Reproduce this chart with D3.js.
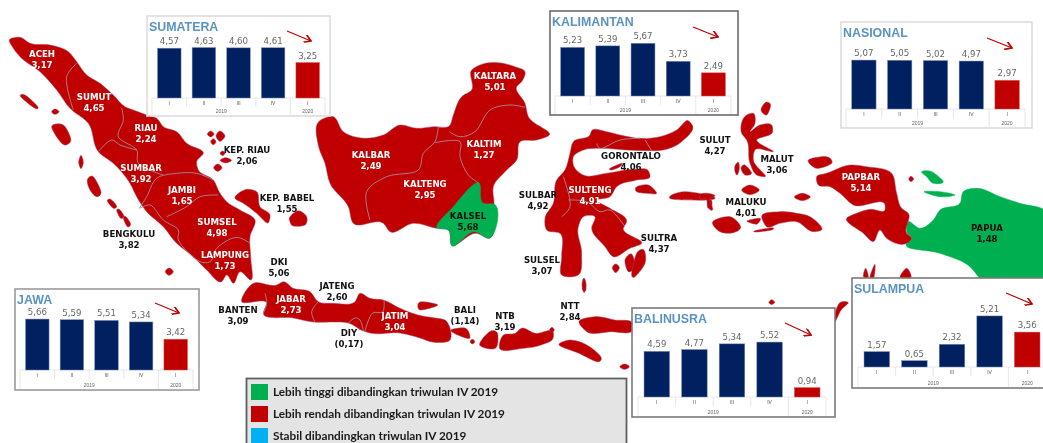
<!DOCTYPE html>
<html>
<head>
<meta charset="utf-8">
<script src="https://cdn.jsdelivr.net/npm/d3@7"></script>
<style>
  html, body { margin: 0; padding: 0; background: #fff; overflow: hidden; }
  svg { display: block; filter: blur(0.6px); }
</style>
</head>
<body>
<svg id="chart"></svg>
<script>
const W = 1043, H = 443;
const NAVY = "#002060", RED = "#c00000", GREEN = "#00b050", BLUE = "#00b0f0";

// ---- inset bar charts
const quarters = ["I", "II", "III", "IV", "I"];
const years = ["2019", "2020"];
const sumateraValues = [4.57, 4.63, 4.60, 4.61, 3.25];
const kalimantanValues = [5.23, 5.39, 5.67, 3.73, 2.49];
const nasionalValues = [5.07, 5.05, 5.02, 4.97, 2.97];
const jawaValues = [5.66, 5.59, 5.51, 5.34, 3.42];
const balinusraValues = [4.59, 4.77, 5.34, 5.52, 0.94];
const sulampuaValues = [1.57, 0.65, 2.32, 5.21, 3.56];

// ---- province labels
const provinces = ["ACEH", "SUMUT", "RIAU", "SUMBAR", "JAMBI", "SUMSEL", "LAMPUNG", "KEP. RIAU", "KEP. BABEL", "BENGKULU",
  "DKI", "JATENG", "JABAR", "BANTEN", "DIY", "JATIM", "BALI", "NTB", "NTT",
  "KALTARA", "KALTIM", "KALBAR", "KALTENG", "KALSEL",
  "GORONTALO", "SULUT", "SULBAR", "SULTENG", "SULTRA", "SULSEL", "MALUT", "MALUKU", "PAPBAR", "PAPUA"];
const growth = [3.17, 4.65, 2.24, 3.92, 1.65, 4.98, 1.73, 2.06, 1.55, 3.82,
  5.06, 2.60, 2.73, 3.09, -0.17, 3.04, -1.14, 3.19, 2.84,
  5.01, 1.27, 2.49, 2.95, 5.68,
  4.06, 4.27, 4.92, 4.91, 4.37, 3.07, 3.06, 4.01, 5.14, 1.48];
const labelX = [42, 94, 146, 141, 182, 217, 225, 247, 287, 129,
  279, 337, 291, 238, 349, 395, 465, 505, 570,
  495, 484, 371, 425, 468,
  631, 715, 538, 590, 659, 542, 777, 746, 861, 987];
const labelY = [54, 97, 128, 168, 190, 222, 255, 150, 198, 234,
  262, 286, 299, 310, 333, 316, 310, 316, 306,
  76, 144, 155, 184, 216,
  156, 140, 195, 190, 238, 260, 159, 202, 177, 228];
const whiteLabels = ["ACEH", "SUMUT", "RIAU", "SUMBAR", "JAMBI", "SUMSEL", "LAMPUNG", "JABAR", "JATIM",
  "KALTARA", "KALTIM", "KALBAR", "KALTENG", "SULTENG", "PAPBAR"];

// ---- legend
const legendText = ["Lebih tinggi dibandingkan triwulan IV 2019", "Lebih rendah dibandingkan triwulan IV 2019", "Stabil dibandingkan triwulan IV 2019"];
const legendColor = [GREEN, RED, BLUE];

// ---- map outlines. every sheet has its own units
const sumatraLand = [[28,120],[60,112],[90,130],[150,135],[205,155],[230,185],[260,225],[300,250],[340,285],[375,320],[400,330],[440,345],[470,355],[490,380],[530,395],[560,430],[610,460],[590,485],[595,510],[640,540],[660,580],[680,605],[720,630],[765,660],[750,710],[752,770],[752,840],[720,815],[700,850],[680,825],[665,845],[620,810],[580,770],[530,730],[490,680],[440,635],[410,590],[390,550],[340,490],[295,455],[265,370],[210,325],[170,270],[120,215],[60,170],[40,145]];
const sumatraIslands = [
  [[62,290],[75,285],[112,318],[105,325]],
  [[155,335],[165,327],[177,335],[165,343]],
  [[155,380],[190,375],[212,415],[205,432],[185,430]],
  [[236,487],[243,466],[250,487],[243,506]],
  [[262,540],[280,530],[303,575],[290,590],[270,570]],
  [[322,603],[332,598],[350,618],[340,625]],
  [[350,632],[358,628],[372,648],[362,655]],
  [[370,655],[378,650],[392,672],[382,680]],
  [[496,815],[507,804],[520,815],[507,826]],
  [[622,402],[632,393],[642,402],[632,411]],
  [[648,408],[660,393],[675,408],[660,424]],
  [[632,425],[640,416],[648,425],[640,434]],
  [[660,460],[668,453],[675,460],[668,467]],
  [[660,481],[677,473],[695,481],[677,489]],
  [[641,503],[653,492],[666,503],[653,514]],
  [[705,595],[740,568],[770,575],[780,620],[810,645],[805,668],[770,640],[730,610]],
  [[870,650],[895,632],[920,650],[915,675],[880,678],[870,665]]
];
const sumatraBorders = [
  [[230,190],[200,230],[220,330]],
  [[365,325],[370,360],[355,410],[410,450],[415,490],[490,525]],
  [[295,455],[335,420],[360,435],[410,450]],
  [[418,625],[440,590],[470,535],[530,520],[590,520],[640,540]],
  [[500,650],[560,620],[600,590],[655,585]],
  [[420,625],[450,615],[490,660],[535,690],[535,720],[600,785],[630,785],[650,745],[710,712],[750,730]]
];

const borneoLand = [[-4,365],[40,350],[70,395],[110,412],[190,405],[240,375],[290,385],[340,380],[388,378],[400,345],[425,290],[455,270],[455,210],[480,195],[585,200],[615,215],[605,245],[590,260],[615,310],[625,350],[688,405],[650,420],[600,425],[590,480],[560,510],[520,560],[522,610],[505,715],[470,700],[395,735],[385,690],[350,685],[280,670],[210,695],[190,670],[100,670],[85,620],[30,550],[15,490],[-4,440]];
const kalselLand = [[478,550],[490,610],[522,612],[505,715],[465,695],[395,737],[385,690],[353,685],[400,620]];
const borneoBorders = [
  [[388,395],[420,410],[465,395],[510,330],[570,315],[615,322]],
  [[355,380],[345,425],[310,460],[295,510],[200,530],[140,575],[150,660]],
  [[345,428],[420,425],[420,470],[445,525],[478,550]]
];
const sulawesiLand = [[760,425],[810,405],[815,392],[860,395],[900,405],[960,415],[1020,410],[1070,390],[1105,362],[1118,378],[1085,425],[1030,450],[990,452],[920,450],[840,445],[790,450],[760,470],[762,500],[790,525],[860,520],[940,508],[985,512],[990,530],[950,540],[890,560],[870,590],[830,600],[870,625],[920,665],[910,685],[965,730],[930,745],[880,770],[855,740],[815,685],[825,650],[790,650],[775,680],[785,760],[775,825],[725,825],[725,770],[720,700],[680,690],[675,655],[700,610],[710,540],[735,510],[750,460]];
const sulawesiIslands = [
  [[870,505],[905,490],[900,500],[875,510]],
  [[950,560],[985,555],[1010,580],[980,580],[950,575]],
  [[1055,585],[1100,575],[1180,590],[1165,600],[1060,598]],
  [[1162,600],[1175,602],[1175,630],[1168,625]],
  [[915,780],[935,762],[945,800],[925,815]],
  [[950,760],[972,750],[975,790],[945,830],[935,820]],
  [[877,803],[887,792],[898,803],[887,818]],
  [[788,840],[795,838],[798,870],[788,870]]
];
const sulawesiBorders = [
  [[830,430],[840,445],[900,420],[960,415]],
  [[975,420],[995,452]],
  [[730,530],[750,620],[725,650]],
  [[745,600],[800,605],[840,635],[870,630],[915,680]]
];

const easternIslands = [
  [[125,400],[140,345],[160,340],[165,370],[150,395],[180,375],[215,375],[218,395],[170,420],[220,455],[165,450],[160,480],[195,530],[170,525],[150,490],[140,420]],
  [[183,330],[197,307],[212,315],[200,345]],
  [[105,497],[115,487],[118,505],[112,525],[105,515]],
  [[123,505],[135,495],[155,520],[135,525]],
  [[125,570],[150,555],[178,570],[150,584]],
  [[283,591],[307,580],[331,591],[307,602]],
  [[38,665],[90,650],[122,680],[100,698],[60,695]],
  [[185,650],[240,635],[290,640],[330,650],[365,690],[340,695],[290,665],[240,670],[200,680],[190,665]],
  [[142,662],[180,655],[172,672],[150,668]],
  [[165,692],[215,683],[215,690],[170,696]],
  [[325,480],[380,470],[395,490],[350,505]],
  [[0,585],[45,588],[30,595],[37,630],[25,625],[18,597],[0,598]],
  [[490,830],[497,805],[505,832]],
  [[510,830],[525,793],[522,832]],
  [[600,832],[620,805],[633,832]],
  [[626,537],[633,529],[641,537],[633,545]]
];
const papbarLand = [[350,530],[380,520],[450,495],[500,500],[575,520],[590,580],[605,625],[625,640],[620,700],[635,715],[620,730],[560,715],[540,690],[520,725],[490,700],[440,655],[470,640],[510,628],[555,630],[555,615],[460,615],[420,580],[390,560],[355,555]];
const papuaLand = [[625,665],[660,685],[700,660],[720,630],[780,610],[790,575],[830,565],[900,590],[960,610],[1035,630],[1035,840],[845,840],[810,800],[720,760],[620,730],[635,715],[622,700]];
const papuaIslands = [
  [[665,515],[695,515],[730,545],[700,550],[680,530]],
  [[672,575],[720,575],[765,585],[720,590]]
];

const javaLand = [[725,95],[760,40],[830,45],[850,35],[880,55],[930,65],[955,95],[1000,100],[1065,95],[1080,70],[1110,85],[1150,90],[1200,115],[1254,135],[1305,144],[1335,150],[1350,210],[1296,216],[1260,204],[1200,189],[1110,189],[1090,183],[1045,159],[1000,156],[940,156],[880,144],[790,129],[800,99]];
const javaBorders = [
  [[795,70],[800,100],[790,130]],
  [[955,95],[935,125],[945,156]],
  [[1152,90],[1148,126],[1118,129],[1095,183]],
  [[1045,159],[1065,144],[1080,150],[1090,183]]
];
const lesserSunda = [
  [[0,96],[45,105],[0,120]],
  [[78,180],[115,175],[125,205],[95,195]],
  [[126,215],[132,208],[138,215],[132,222]],
  [[150,225],[175,185],[195,190],[190,235]],
  [[200,235],[210,195],[240,190],[255,175],[290,190],[335,185],[335,205],[305,225],[260,235]],
  [[326,180],[332,172],[338,180],[332,187]],
  [[400,155],[440,140],[490,150],[535,160],[535,180],[480,185],[420,185]],
  [[350,225],[380,210],[420,225],[455,260],[445,275],[400,250]],
  [[503,290],[515,282],[527,290],[515,298]],
  [[408,45],[413,28],[418,45],[413,68]],
  [[878,97],[885,89],[893,97],[885,104]],
  [[1040,150],[1055,100],[1078,98],[1060,120],[1045,155]]
];

// each sheet says how its units sit on the picture
const sheetA = { x: d3.scaleLinear().domain([0, 1020]).range([0, 340]), y: d3.scaleLinear().domain([0, 870]).range([0, 290]) };
const sheetB = { x: d3.scaleLinear().domain([0, 1200]).range([320, 720]), y: d3.scaleLinear().domain([0, 870]).range([0, 290]) };
const sheetC = { x: d3.scaleLinear().domain([0, 1029]).range([700, 1043]), y: d3.scaleLinear().domain([0, 870]).range([0, 290]) };
const sheetD = { x: d3.scaleLinear().domain([0, 1260]).range([0, 420]), y: d3.scaleLinear().domain([0, 519]).range([270, 443]) };
const sheetE = { x: d3.scaleLinear().domain([0, 1568]).range([420, 1043]), y: d3.scaleLinear().domain([0, 519]).range([270, 443]) };

const svg = d3.select("#chart").attr("width", W).attr("height", H);

function drawLand(sheet, shapes, color) {
  // long coasts stay tight, little islands come out round
  const path = shape => d3.line()
    .x(d => sheet.x(d[0]))
    .y(d => sheet.y(d[1]))
    .curve(d3.curveCatmullRomClosed.alpha(shape.length > 6 ? 1 : 0))(shape);
  svg.append("g")
    .selectAll("path")
    .data(shapes)
    .enter()
    .append("path")
    .attr("d", path)
    .attr("fill", color)
    .attr("stroke", color === RED ? "#a9436a" : color)
    .attr("stroke-width", 0.5);
}

function drawBorders(sheet, lines) {
  const path = d3.line().x(d => sheet.x(d[0])).y(d => sheet.y(d[1])).curve(d3.curveCatmullRom);
  svg.append("g")
    .selectAll("path")
    .data(lines)
    .enter()
    .append("path")
    .attr("d", path)
    .attr("fill", "none")
    .attr("stroke", "#a58a9c")
    .attr("stroke-width", 0.9);
}

drawLand(sheetA, [sumatraLand].concat(sumatraIslands), RED);
drawBorders(sheetA, sumatraBorders);
drawLand(sheetB, [borneoLand, sulawesiLand].concat(sulawesiIslands), RED);
drawBorders(sheetB, borneoBorders.concat(sulawesiBorders));
drawLand(sheetB, [kalselLand], GREEN);
drawLand(sheetC, easternIslands, RED);
drawLand(sheetC, [papuaLand].concat(papuaIslands), GREEN);
drawLand(sheetC, [papbarLand], RED);
drawLand(sheetD, [javaLand], RED);
drawBorders(sheetD, javaBorders);
drawLand(sheetE, lesserSunda, RED);

function growthText(v) {
  const s = d3.format(".2f")(Math.abs(v)).replace(".", ",");
  return v < 0 ? "(" + s + ")" : s;
}

const labels = svg.append("g")
  .attr("font-family", "'DejaVu Sans', sans-serif")
  .attr("font-weight", "bold")
  .attr("font-size", 8.6)
  .attr("text-anchor", "middle");

provinces.forEach((name, i) => {
  const color = whiteLabels.includes(name) ? "#fff" : "#111";
  labels.append("text").attr("x", labelX[i]).attr("y", labelY[i] + 3).attr("fill", color).text(name);
  labels.append("text").attr("x", labelX[i]).attr("y", labelY[i] + 13.5).attr("fill", color).text(growthText(growth[i]));
});

// ---- panels
const panels = [
  { title: "SUMATERA", values: sumateraValues, box: [147, 16, 183, 100], plot: [152, 325], base: 98, unit: 10.9, arrow: [[287, 31], [311, 41]], edge: "#dcdcdc" },
  { title: "KALIMANTAN", values: kalimantanValues, box: [550, 11, 188, 104], plot: [555, 731], base: 96, unit: 9.3, arrow: [[693, 27], [718, 37]], edge: "#6b6b6b" },
  { title: "NASIONAL", values: nasionalValues, box: [841, 22, 191, 106], plot: [846, 1025], base: 109, unit: 9.65, arrow: [[987, 38], [1012, 48]], edge: "#dcdcdc" },
  { title: "JAWA", values: jawaValues, box: [15, 289, 184, 101], plot: [20, 193], base: 370, unit: 9, arrow: [[155, 303], [179, 313]], edge: "#9a9a9a" },
  { title: "BALINUSRA", values: balinusraValues, box: [632, 308, 203, 109], plot: [638, 826], base: 397, unit: 9.95, arrow: [[785, 323], [811, 335]], edge: "#7a7a7a" },
  { title: "SULAMPUA", values: sulampuaValues, box: [852, 278, 195, 110], plot: [858, 1046], base: 367, unit: 9.8, arrow: [[1006, 293], [1032, 304]], edge: "#7a7a7a" }
];

svg.append("defs").append("marker")
  .attr("id", "arrowHead")
  .attr("viewBox", "0 0 10 10")
  .attr("refX", 9).attr("refY", 5)
  .attr("markerWidth", 7).attr("markerHeight", 7)
  .attr("orient", "auto")
  .append("path")
  .attr("d", "M1,0 L9,5 L1,10")
  .attr("fill", "none")
  .attr("stroke", RED)
  .attr("stroke-width", 2);

panels.forEach(drawPanel);

function drawPanel(p) {
  const [bx, by, bw, bh] = p.box;
  const g = svg.append("g");
  const bottom = by + bh;

  g.append("rect")
    .attr("x", bx).attr("y", by).attr("width", bw).attr("height", bh)
    .attr("fill", "#fff")
    .attr("stroke", p.edge)
    .attr("stroke-width", 1.6);

  g.append("text")
    .attr("x", bx + 2).attr("y", by + 15)
    .attr("font-family", "'Liberation Sans', sans-serif")
    .attr("font-weight", "bold")
    .attr("font-size", 12.4)
    .attr("fill", "#5a93c2")
    .text(p.title);

  const x = d3.scaleBand().domain(d3.range(quarters.length)).range(p.plot).paddingInner(0.32).paddingOuter(0.16);
  const y = d3.scaleLinear().domain([0, 1]).range([p.base, p.base - p.unit]);
  const step = x.step();

  // small table under the bars
  const table = g.append("g").attr("stroke", "#dddddd").attr("stroke-width", 0.7);
  const cuts = d3.range(quarters.length + 1).map(i => p.plot[0] + i * step);
  table.selectAll("line.cut")
    .data(cuts)
    .enter()
    .append("line")
    .attr("x1", d => d).attr("x2", d => d)
    .attr("y1", p.base)
    .attr("y2", (d, i) => (i === 0 || i === 4 || i === 5) ? bottom - 1 : p.base + 9);
  table.append("line").attr("x1", p.plot[0]).attr("x2", p.plot[1]).attr("y1", p.base).attr("y2", p.base);

  g.selectAll("rect.bar")
    .data(p.values)
    .enter()
    .append("rect")
    .attr("class", "bar")
    .attr("x", (d, i) => x(i))
    .attr("width", x.bandwidth())
    .attr("y", d => y(d))
    .attr("height", d => y(0) - y(d))
    .attr("fill", (d, i) => i === 4 ? RED : NAVY)
    .attr("stroke", (d, i) => i === 4 ? "#d9534f" : "#7f8fb5")
    .attr("stroke-width", 0.5);

  g.selectAll("text.val")
    .data(p.values)
    .enter()
    .append("text")
    .attr("class", "val")
    .attr("x", (d, i) => x(i) + x.bandwidth() / 2)
    .attr("y", d => y(d) - 4)
    .attr("text-anchor", "middle")
    .attr("font-family", "'DejaVu Sans', sans-serif")
    .attr("font-size", 8.6)
    .attr("fill", "#666")
    .text(growthText);

  g.selectAll("text.qtr")
    .data(quarters)
    .enter()
    .append("text")
    .attr("class", "qtr")
    .attr("x", (d, i) => x(i) + x.bandwidth() / 2)
    .attr("y", p.base + 7)
    .attr("text-anchor", "middle")
    .attr("font-family", "'Liberation Sans', sans-serif")
    .attr("font-size", 5)
    .attr("fill", "#555")
    .text(d => d);

  g.selectAll("text.yr")
    .data(years)
    .enter()
    .append("text")
    .attr("class", "yr")
    .attr("x", (d, i) => i === 0 ? p.plot[0] + 2 * step : p.plot[0] + 4.5 * step)
    .attr("y", bottom - 3)
    .attr("text-anchor", "middle")
    .attr("font-family", "'Liberation Sans', sans-serif")
    .attr("font-size", 5)
    .attr("fill", "#666")
    .text(d => d);

  g.append("line")
    .attr("x1", p.arrow[0][0]).attr("y1", p.arrow[0][1])
    .attr("x2", p.arrow[1][0]).attr("y2", p.arrow[1][1])
    .attr("stroke", RED)
    .attr("stroke-width", 1.2)
    .attr("marker-end", "url(#arrowHead)");
}

// ---- legend box, runs off the bottom of the picture
const legend = svg.append("g");
legend.append("rect")
  .attr("x", 246.5).attr("y", 378.5).attr("width", 380).attr("height", 80)
  .attr("fill", "#e4e4e4")
  .attr("stroke", "#5f5f5f")
  .attr("stroke-width", 1.8);

const legendY = d3.scalePoint().domain(d3.range(legendText.length)).range([392, 436]);

legend.selectAll("rect.swatch")
  .data(legendColor)
  .enter()
  .append("rect")
  .attr("class", "swatch")
  .attr("x", 251).attr("width", 17).attr("height", 16)
  .attr("y", (d, i) => legendY(i) - 8)
  .attr("fill", d => d);

legend.selectAll("text")
  .data(legendText)
  .enter()
  .append("text")
  .attr("x", 273)
  .attr("y", (d, i) => legendY(i) + 4)
  .attr("font-family", "Lato, sans-serif")
  .attr("font-weight", "bold")
  .attr("font-size", 11.8)
  .attr("fill", "#1a1a1a")
  .text(d => d);
</script>
</body>
</html>
